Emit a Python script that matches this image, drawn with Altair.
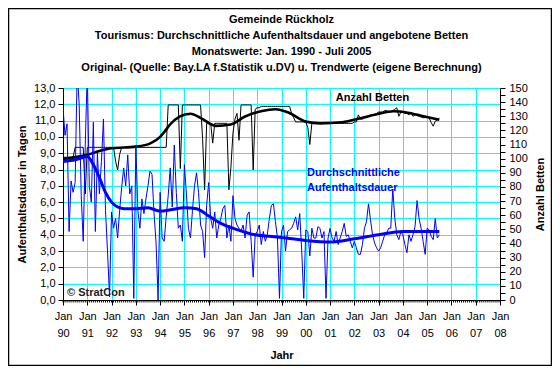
import json
import pandas as pd
import altair as alt

# ---------------- data ----------------
year_labels = ["90", "91", "92", "93", "94", "95", "96", "97", "98", "99",
               "00", "01", "02", "03", "04", "05", "06", "07", "08"]
first_year = 1990

# average length of stay (days), monthly Jan 1990 - Jul 2005
stay_1990 = [11.8, 10.1, 10.8, 4.2, 7.3, 6.6, 7.2, 14.0, 12.0, 6.4, 3.6, 9.5]
stay_1991 = [14.0, 7.0, 6.0, 10.9, 4.2, 9.0, 6.5, 8.5, 11.1, 5.5, 3.0, 0.2]
stay_1992 = [5.4, 4.4, 5.0, 3.8, 5.5, 6.9, 8.1, 7.0, 8.9, 6.5, 7.0, 0.1]
stay_1993 = [9.5, 5.5, 4.4, 6.2, 5.3, 6.2, 7.0, 7.9, 7.7, 5.3, 3.5, 0.0]
stay_1994 = [6.6, 3.8, 3.6, 5.1, 6.4, 8.1, 5.7, 9.5, 6.6, 4.4, 4.6, 3.6]
stay_1995 = [8.3, 6.5, 4.4, 3.8, 5.5, 7.0, 7.8, 6.6, 4.6, 4.2, 2.6, 5.8]
stay_1996 = [7.2, 5.0, 4.4, 5.4, 3.8, 4.6, 5.0, 5.6, 5.8, 3.8, 4.6, 3.6]
stay_1997 = [6.4, 5.0, 4.6, 4.4, 4.2, 4.6, 3.8, 5.2, 5.4, 3.6, 1.4, 4.0]
stay_1998 = [4.2, 4.6, 3.4, 4.2, 3.6, 4.0, 5.0, 5.8, 5.9, 4.8, 3.8, 0.1]
stay_1999 = [4.2, 4.6, 3.0, 4.2, 4.3, 4.4, 4.7, 5.1, 4.3, 5.3, 3.0, 0.1]
stay_2000 = [4.3, 4.2, 2.7, 4.4, 3.8, 3.8, 4.5, 4.4, 3.8, 4.2, 0.1, 3.8]
stay_2001 = [4.4, 3.8, 3.6, 4.2, 3.4, 3.8, 4.2, 4.7, 3.9, 4.0, 3.6, 3.2]
stay_2002 = [3.6, 3.2, 2.8, 2.8, 3.4, 4.4, 4.8, 5.9, 4.9, 4.0, 3.5, 3.2]
stay_2003 = [3.0, 3.2, 3.6, 4.0, 4.1, 4.4, 4.4, 6.8, 5.0, 4.0, 3.7, 4.2]
stay_2004 = [4.0, 3.4, 2.9, 4.0, 3.6, 4.0, 4.5, 6.1, 5.0, 4.4, 3.6, 2.8]
stay_2005 = [4.4, 4.3, 3.9, 3.7, 5.0, 3.8, 4.0]

# beds offered, monthly
beds_1990 = [101, 101, 101, 101, 101, 101, 108, 108, 108, 108, 108, 75]
beds_1991 = [108, 108, 108, 108, 108, 108, 108, 108, 108, 108, 108, 108]
beds_1992 = [108, 108, 98, 92, 103, 108, 108, 108, 108, 108, 108, 108]
beds_1993 = [108, 108, 108, 108, 108, 108, 108, 108, 108, 108, 108, 108]
beds_1994 = [108, 108, 108, 108, 138, 138, 138, 138, 138, 138, 93, 138]
beds_1995 = [138, 138, 138, 138, 138, 138, 138, 138, 138, 114, 78, 125]
beds_1996 = [125, 125, 111, 125, 125, 125, 125, 125, 125, 125, 78, 94]
beds_1997 = [118, 128, 132, 113, 138, 138, 138, 138, 138, 138, 92, 135]
beds_1998 = [136, 136, 137, 137, 137, 137, 137, 137, 137, 137, 137, 137]
beds_1999 = [137, 137, 137, 137, 137, 132, 129, 126, 126, 126, 126, 126]
beds_2000 = [126, 122, 110, 125, 125, 125, 125, 125, 125, 125, 125, 125]
beds_2001 = [125, 125, 125, 125, 125, 125, 125, 125, 125, 125, 125, 125]
beds_2002 = [126, 126, 131, 128, 128, 129, 129, 130, 131, 131, 131, 132]
beds_2003 = [133, 133, 133, 134, 134, 133, 133, 134, 135, 136, 130, 133]
beds_2004 = [133, 132, 132, 131, 133, 130, 131, 130.5, 130, 129.5, 129, 129]
beds_2005 = [129.5, 128.6, 125.5, 123, 126.5, 127.5, 128.6]

# trend values (own calculation)
stay_trend_t = [1990.0, 1990.5, 1991.0, 1991.25, 1991.5, 1991.75, 1992.0, 1992.25,
                1992.5, 1993.0, 1993.5, 1994.0, 1994.5, 1995.0, 1995.5, 1996.0,
                1996.5, 1997.2, 1997.9, 1998.6, 1999.2, 2000.0, 2001.0, 2002.0,
                2003.0, 2004.0, 2005.5]
stay_trend_v = [8.5, 8.6, 8.8, 8.3, 7.5, 6.6, 6.0, 5.7, 5.6, 5.6, 5.65, 5.45, 5.55,
                5.65, 5.6, 5.15, 4.7, 4.3, 4.0, 3.9, 3.8, 3.65, 3.55, 3.75, 4.0,
                4.2, 4.2]
beds_trend_t = [1990.0, 1991.0, 1991.5, 1992.0, 1993.0, 1993.6, 1994.0, 1994.2,
                1994.4, 1994.8, 1995.25, 1995.7, 1996.3, 1996.9, 1997.5, 1998.2,
                1998.75, 1999.3, 2000.0, 2000.6, 2001.5, 2002.3, 2003.0, 2003.6,
                2004.2, 2004.8, 2005.5]
beds_trend_v = [99.8, 102.7, 105.5, 107.4, 108.5, 110.8, 115.4, 119.5, 124, 129.8,
                131.8, 128.5, 123.2, 124.2, 129.8, 133.8, 135, 132.5, 126.2, 125,
                125.8, 128.8, 131.8, 133.5, 132.5, 130.2, 127.5]

title_lines = ["Gemeinde Rückholz",
               "Tourismus: Durchschnittliche Aufenthaltsdauer und angebotene Betten",
               "Monatswerte: Jan. 1990 - Juli 2005",
               "Original- (Quelle: Bay.LA f.Statistik u.DV) u. Trendwerte (eigene Berechnung)"]

# ---------------- tables ----------------
stay = (stay_1990 + stay_1991 + stay_1992 + stay_1993 + stay_1994 + stay_1995 +
        stay_1996 + stay_1997 + stay_1998 + stay_1999 + stay_2000 + stay_2001 +
        stay_2002 + stay_2003 + stay_2004 + stay_2005)
beds = (beds_1990 + beds_1991 + beds_1992 + beds_1993 + beds_1994 + beds_1995 +
        beds_1996 + beds_1997 + beds_1998 + beds_1999 + beds_2000 + beds_2001 +
        beds_2002 + beds_2003 + beds_2004 + beds_2005)
months_t = [first_year + i / 12 for i in range(len(stay))]
raw = pd.DataFrame({"t": months_t, "stay": stay, "beds": beds})
stay_tr = pd.DataFrame({"t": stay_trend_t, "stay": stay_trend_v})
beds_tr = pd.DataFrame({"t": beds_trend_t, "beds": beds_trend_v})
last_year = first_year + len(year_labels) - 1
minor = pd.DataFrame({"t": [first_year + k / 12 for k in range((last_year - first_year) * 12 + 1)]})
one = pd.DataFrame({"a": [0]})

FONT = "Liberation Sans"
BLUE = "#0000ff"
CYAN = "#00ffff"

x_axis = alt.Axis(
    values=list(range(first_year, last_year + 1)),
    labelExpr="['Jan', " + json.dumps(year_labels) + "[datum.value - %d]]" % first_year,
    labelLineHeight=17, labelPadding=5, tickSize=5, labelFlush=False, labelOverlap=False,
    labelFontSize=11, labelFont=FONT, labelColor="black",
    title="Jahr", titleFont=FONT, titleFontSize=11, titleFontWeight="bold",
    titleColor="black", titleY=55, titleBaseline="middle",
    grid=True, gridColor=CYAN, gridWidth=1, gridOpacity=1,
    domainColor="black", tickColor="black",
)
X = alt.X("t:Q", scale=alt.Scale(domain=[first_year, last_year], nice=False, zero=False), axis=x_axis)

left_axis = alt.Axis(
    orient="left", values=list(range(0, 14)),
    labelExpr="replace(format(datum.value, '.1f'), '.', ',')",
    tickSize=5, labelPadding=3, labelFontSize=11, labelFont=FONT, labelColor="black",
    title="Aufenthaltsdauer in Tagen", titleFont=FONT, titleFontSize=11,
    titleFontWeight="bold", titleColor="black", titleX=-41, titleY=106,
    titleAngle=270, titleAlign="center", titleBaseline="middle",
    grid=True, gridColor=CYAN, gridWidth=1, gridOpacity=1,
    domainColor="black", tickColor="black",
)
right_axis = alt.Axis(
    orient="right", values=list(range(0, 155, 5)),
    labelExpr="datum.value % 10 == 0 ? datum.value : ''",
    tickSize=5, labelPadding=4, labelFontSize=11, labelFont=FONT, labelColor="black",
    title="Anzahl Betten", titleFont=FONT, titleFontSize=11, titleFontWeight="bold",
    titleColor="black", titleX=40, titleY=106, titleAngle=270, titleAlign="center",
    titleBaseline="middle", grid=False, domainColor="black", tickColor="black",
)
YL = alt.Y("stay:Q", scale=alt.Scale(domain=[0, 13], nice=False), axis=left_axis)
YR = alt.Y("beds:Q", scale=alt.Scale(domain=[0, 150], nice=False), axis=right_axis)

beds_raw = alt.Chart(raw).mark_line(color="black", strokeWidth=1, clip=True).encode(x=X, y=YR)
beds_trend = alt.Chart(beds_tr).mark_line(color="black", strokeWidth=2.6, interpolate="monotone",
                                          clip=True).encode(x=X, y=YR)
beds_layer = alt.layer(beds_raw, beds_trend)

stay_raw = alt.Chart(raw).mark_line(color=BLUE, strokeWidth=1, clip=True).encode(x=X, y=YL)
stay_trend = alt.Chart(stay_tr).mark_line(color=BLUE, strokeWidth=3, interpolate="monotone",
                                          clip=True).encode(x=X, y=YL)

minor_ticks = alt.Chart(minor).mark_rule(color="black", strokeWidth=1).encode(
    x=X, y=alt.value(212), y2=alt.value(214.5))


def label(text, x, y, color="black", align="center"):
    return alt.Chart(one).mark_text(text=text, font=FONT, fontSize=11, fontWeight="bold",
                                    color=color, align=align, baseline="middle").encode(
        x=alt.value(x), y=alt.value(y))


title_marks = [label(line, 218.5, -68 + 16 * i) for i, line in enumerate(title_lines)]
txt_beds = label("Anzahl Betten", 309.5, 10)
txt_stay1 = label("Durchschnittliche", 244, 85, color=BLUE, align="left")
txt_stay2 = label("Aufenthaltsdauer", 244, 99.5, color=BLUE, align="left")
txt_copy = label("© StratCon", 4, 205, color="#222222", align="left")
frame = alt.Chart(one).mark_rect(fillOpacity=0, stroke="black", strokeWidth=1.5).encode(
    x=alt.value(-54.5), x2=alt.value(488.5), y=alt.value(-79.5), y2=alt.value(277.5))

stay_layer = alt.layer(stay_raw, stay_trend, minor_ticks, txt_beds, txt_stay1, txt_stay2,
                       txt_copy, frame, *title_marks)

chart = alt.layer(beds_layer, stay_layer).resolve_scale(y="independent").properties(
    width=437, height=212,
    autosize=alt.AutoSizeParams(type="none"),
    padding={"left": 55, "top": 80, "right": 52, "bottom": 66},
).configure_view(fill="#c0c0c0", stroke="#808080").configure(background="white")

chart.save("out.html", embed_options={"renderer": "svg", "actions": False})
